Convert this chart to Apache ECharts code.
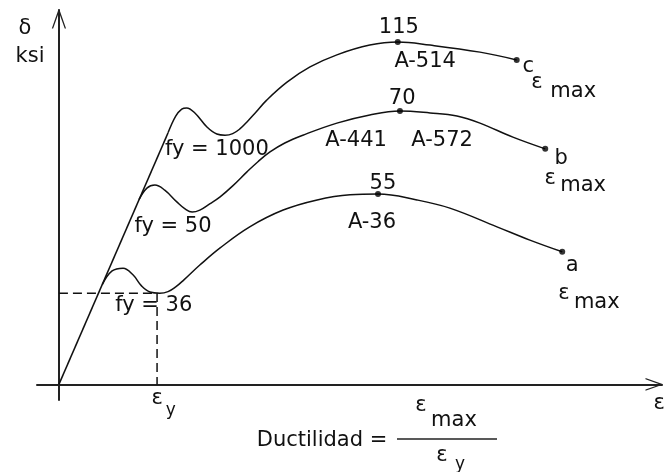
<!DOCTYPE html>
<html><head><meta charset="utf-8">
<script src="https://cdn.jsdelivr.net/npm/echarts@6/dist/echarts.min.js"></script>
<style>html,body{margin:0;padding:0;background:#fff}#c{width:664px;height:472px}</style>
</head><body><div id="c"></div>
<script>
// Schematic stress–strain curves (x: strain units, y: stress units)
const elastic = [[0, 0], [19.9, 64.5]];
const curveA = [[7.9,25.6],[9.7,29.1],[11.7,29.8],[13.5,28.1],[15.1,25.2],[16.6,23.7],[18.4,23.4],[19.9,23.8],[21.3,25.0],[22.8,26.8],[25.7,30.6],[29.4,35.0],[34.8,40.4],[40.9,44.7],[47.1,47.3],[53.1,48.6],[58.2,48.8],[65.3,47.3],[71.3,45.2],[79.9,40.4],[85.9,37.0],[91.8,34.0]];
const curveB = [[14.6,47.4],[16.1,50.4],[17.5,51.1],[19.3,49.8],[21.5,46.8],[23.0,45.0],[24.3,44.2],[25.7,44.7],[27.5,46.3],[29.4,48.1],[31.7,50.9],[34.3,54.5],[36.3,57.1],[38.5,59.6],[41.2,61.9],[44.5,63.9],[50.7,67.0],[56.7,69.1],[62.2,70.1],[67.7,69.6],[72.6,68.8],[76.8,67.0],[82.8,63.4],[88.7,60.4]];
const curveC = [[19.9,64.5],[21.3,68.8],[22.4,70.6],[23.3,70.9],[24.8,69.6],[27.0,66.0],[28.8,64.2],[30.3,63.9],[31.7,64.3],[33.0,65.5],[34.3,67.3],[35.8,69.6],[37.9,72.9],[41.6,77.5],[45.8,81.4],[50.7,84.5],[56.7,87.0],[61.8,87.8],[67.7,87.0],[76.8,85.2],[83.5,83.2]];
const fyLevel = 23.4;   // fy = 36 yield plateau
const epsY = 17.9;      // εy
const xRange = [-4, 110];
const yRange = [-4, 96];
// text annotations: [x, y, text]
const labels = [
  [62.0, 91.6, '115'], [66.8, 82.9, 'A-514'],
  [62.6, 73.4, '70'], [54.2, 62.4, 'A-441'], [69.9, 62.4, 'A-572'],
  [59.1, 51.6, '55'], [57.1, 41.4, 'A-36'],
  [28.8, 60.1, 'fy = 1000'], [20.8, 40.4, 'fy = 50'], [17.3, 20.1, 'fy = 36'],
  [85.6, 81.4, 'c'], [91.6, 57.8, 'b'], [93.6, 30.6, 'a'],
  [87.2, 77.3, 'ε'], [93.8, 75.2, 'max'],
  [89.6, 52.9, 'ε'], [95.6, 50.9, 'max'],
  [92.1, 23.2, 'ε'], [98.1, 20.9, 'max'],
  [109.5, -5.0, 'ε'], [17.9, -3.5, 'ε']
];
const subLabels = [[20.4, -6.8, 'y']];

const FONT = 'DejaVu Sans';
const TXT = '#111';
function peakOf(c) { let k = 0; c.forEach((p, i) => { if (p[1] > c[k][1]) k = i; }); return c[k]; }
const dots = [curveA, curveB, curveC].flatMap(c => [peakOf(c), c[c.length - 1]]);
const lineStyle = { color: '#111', width: 1.5 };
function curve(data) {
  return { type: 'line', data, smooth: 0.4, showSymbol: false, symbol: 'none', lineStyle, z: 3, silent: true };
}
function textSeries(arr, size) {
  return {
    type: 'scatter', symbolSize: 0, clip: false, silent: true, z: 5,
    itemStyle: { color: '#000', opacity: 1 },
    data: arr.map(d => ({ value: [d[0], d[1]], label: { formatter: d[2] } })),
    label: { show: true, position: 'inside', align: 'center', verticalAlign: 'middle',
      color: TXT, opacity: 1, textBorderWidth: 0, fontFamily: FONT, fontSize: size }
  };
}
const chevron = 'path://M0,20 L7,0 L8,0 L15,20 L13.6,20 L7.5,3 L1.4,20 Z';
const chart = echarts.init(document.getElementById('c'), null, { renderer: 'canvas' });
chart.setOption({
  animation: false,
  backgroundColor: '#fff',
  grid: { left: 37, right: 2, top: 10, bottom: 72 },
  xAxis: {
    type: 'value', min: xRange[0], max: xRange[1],
    axisLine: { show: true, onZero: true, symbol: ['none', chevron], symbolSize: [15, 17], symbolOffset: [0, -8],
      lineStyle: { color: '#222', width: 2 } },
    axisTick: { show: false }, axisLabel: { show: false }, splitLine: { show: false }
  },
  yAxis: {
    type: 'value', min: yRange[0], max: yRange[1],
    axisLine: { show: true, onZero: true, symbol: ['none', chevron], symbolSize: [15, 19], symbolOffset: [0, -9],
      lineStyle: { color: '#222', width: 2 } },
    axisTick: { show: false }, axisLabel: { show: false }, splitLine: { show: false }
  },
  series: [
    curve(elastic), curve(curveA), curve(curveB), curve(curveC),
    { type: 'line', data: [[0, fyLevel], [epsY, fyLevel], [epsY, 0]], showSymbol: false, symbol: 'none', silent: true,
      lineStyle: { color: '#111', width: 1.5, type: [9, 5] }, z: 2 },
    { type: 'scatter', data: dots, symbol: 'circle', symbolSize: 6, itemStyle: { color: '#000' }, silent: true, z: 4 },
    textSeries(labels, 21),
    textSeries(subLabels, 17)
  ],
  graphic: [
    { type: 'text', x: 25, y: 29, style: { text: 'δ', fontFamily: FONT, fontSize: 21, fill: TXT, align: 'center', verticalAlign: 'middle' } },
    { type: 'text', x: 30, y: 57, style: { text: 'ksi', fontFamily: FONT, fontSize: 21, fill: TXT, align: 'center', verticalAlign: 'middle' } },
    { type: 'text', x: 322, y: 441, style: { text: 'Ductilidad =', fontFamily: FONT, fontSize: 21, fill: TXT, align: 'center', verticalAlign: 'middle' } },
    { type: 'line', shape: { x1: 397, y1: 439, x2: 497, y2: 439 }, style: { stroke: '#222', lineWidth: 1.5 } },
    { type: 'text', x: 421, y: 406, style: { text: 'ε', fontFamily: FONT, fontSize: 21, fill: TXT, align: 'center', verticalAlign: 'middle' } },
    { type: 'text', x: 454, y: 421, style: { text: 'max', fontFamily: FONT, fontSize: 21, fill: TXT, align: 'center', verticalAlign: 'middle' } },
    { type: 'text', x: 442, y: 456, style: { text: 'ε', fontFamily: FONT, fontSize: 21, fill: TXT, align: 'center', verticalAlign: 'middle' } },
    { type: 'text', x: 460, y: 465, style: { text: 'y', fontFamily: FONT, fontSize: 17, fill: TXT, align: 'center', verticalAlign: 'middle' } }
  ]
});
</script></body></html>
